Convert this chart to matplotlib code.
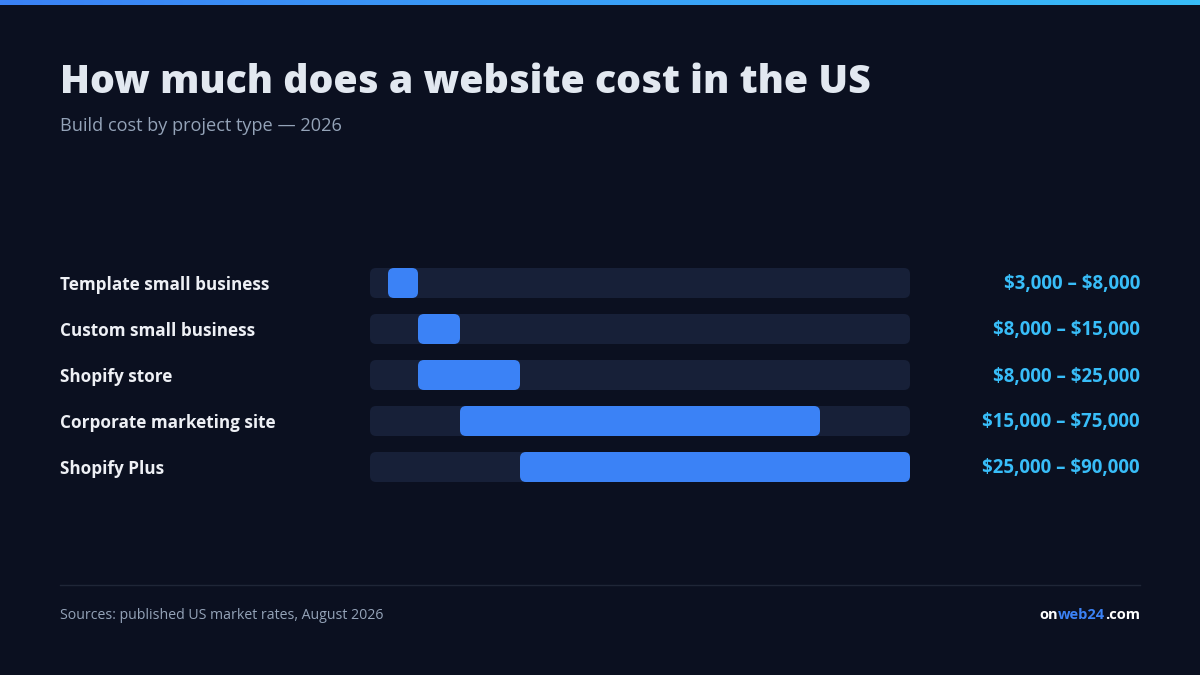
import matplotlib
matplotlib.use('Agg')
import matplotlib.pyplot as plt
import numpy as np
from matplotlib.patches import FancyBboxPatch

plt.rcParams['text.parse_math'] = False

# Chart data
project_types = [
    'Template small business',
    'Custom small business',
    'Shopify store',
    'Corporate marketing site',
    'Shopify Plus',
]
low_costs = [3000, 8000, 8000, 15000, 25000]
high_costs = [8000, 15000, 25000, 75000, 90000]
axis_max = 90000

title = 'How much does a website cost in the US'
subtitle = 'Build cost by project type \u2014 2026'
source_note = 'Sources: published US market rates, August 2026'
brand_parts = ['on', 'web24', '.com']

# Colours
BG = '#0b1020'
TRACK = '#172038'
BAR = '#3b82f6'
VALUE = '#38bdf8'
LABEL = '#eef0f5'
MUTED = '#94a3b8'
FONT = ['Open Sans', 'DejaVu Sans']

W, H = 1200, 675
fig = plt.figure(figsize=(W / 100, H / 100), dpi=100, facecolor=BG)


def fx(x):
    return x / W


def fy(y):
    return 1 - y / H


# Top gradient strip
strip = fig.add_axes([0, fy(5), 1, 5 / H])
strip.imshow(np.linspace(0, 1, 256)[np.newaxis, :], aspect='auto',
             cmap=matplotlib.colors.LinearSegmentedColormap.from_list(
                 'strip', ['#3b82f6', '#38bdf8']))
strip.axis('off')

# Titles
fig.text(fx(60), fy(93), title, color='#e2e8f0', fontsize=28.3,
         fontweight=800, family=FONT, va='baseline')
fig.text(fx(60), fy(131), subtitle, color=MUTED, fontsize=13.1,
         family=FONT, va='baseline')

# Bar area: rows are 46 px apart, track is 30 px tall
row_px = 46
n_rows = len(project_types)
top_px = 283 - row_px / 2
ax = fig.add_axes([fx(370), fy(top_px + row_px * n_rows), fx(540),
                   row_px * n_rows / H])
ax.set_xlim(0, axis_max)
ax.set_ylim(n_rows - 0.5, -0.5)
ax.axis('off')

bar_h = 30 / row_px
radius_px = 6
x_per_px = axis_max / 540
aspect = (1 / row_px) / x_per_px


def rounded(x0, x1, y, color):
    box = FancyBboxPatch(
        (x0, y - bar_h / 2), x1 - x0, bar_h,
        boxstyle=f'round,pad=0,rounding_size={radius_px * x_per_px}',
        mutation_aspect=aspect, facecolor=color, edgecolor='none')
    ax.add_patch(box)


for i, (name, lo, hi) in enumerate(zip(project_types, low_costs, high_costs)):
    rounded(0, axis_max, i, TRACK)
    rounded(lo, hi, i, BAR)
    y_text = fy(289.5 + i * row_px)
    fig.text(fx(60), y_text, name, color=LABEL, fontsize=12.3,
             fontweight='bold', family=FONT, va='baseline')
    fig.text(fx(1140), y_text, f'${lo:,} \u2013 ${hi:,}', color=VALUE,
             fontsize=13.4, fontweight='bold', family=FONT, va='baseline',
             ha='right')

# Footer divider and notes
fig.add_artist(plt.Line2D([fx(60), fx(1140)], [fy(584.5), fy(584.5)],
                          color='#1f2637', linewidth=1))
fig.text(fx(60), fy(619), source_note, color=MUTED, fontsize=10.2,
         family=FONT, va='baseline')

# Brand: measure prefixes so the coloured pieces sit side by side
renderer = fig.canvas.get_renderer()
brand_style = dict(fontsize=10.5, fontweight='bold', family=FONT,
                   va='baseline', ha='left')


def text_width(s):
    t = fig.text(0, 0, s, **brand_style)
    w = t.get_window_extent(renderer).width / W
    t.remove()
    return w


x_start = fx(1140) - text_width(''.join(brand_parts))
prefix = ''
for part, color in zip(brand_parts, ['#ffffff', BAR, '#ffffff']):
    offset = 0
    if prefix:
        offset = text_width(prefix + part[0]) - text_width(part[0])
    fig.text(x_start + offset, fy(619), part, color=color, **brand_style)
    prefix += part

fig.savefig('out.png', dpi=100, facecolor=BG)
